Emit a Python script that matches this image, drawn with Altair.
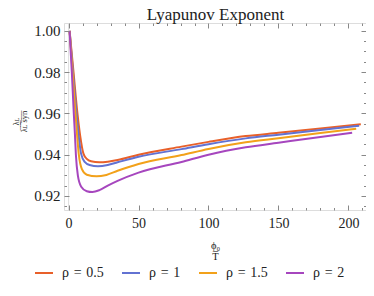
import altair as alt
import pandas as pd

# ---- data ----
series_names = ["ρ\u2004=\u20040.5", "ρ\u2004=\u20041", "ρ\u2004=\u20041.5", "ρ\u2004=\u20042"]
series_colors = ["#E8602A", "#6272D2", "#F2A11A", "#A646BE"]

x_r05 = [0.7, 3.5, 6.3, 8.3, 10.6, 13, 16, 22, 28, 35, 50, 80.7, 100, 126.6, 150, 180, 208.9]
y_r05 = [1.000, 0.980, 0.960, 0.949, 0.9405, 0.9380, 0.9368, 0.9363, 0.9366, 0.9374, 0.9400,
         0.9439, 0.9462, 0.9490, 0.9506, 0.9527, 0.9548]

x_r10 = [0.7, 3.1, 5.6, 7.2, 8.9, 11.5, 15, 21, 28, 35, 50, 80.7, 100, 126.6, 150, 180, 207.7]
y_r10 = [1.000, 0.980, 0.960, 0.949, 0.9405, 0.9365, 0.9350, 0.9344, 0.9350, 0.9363, 0.9390,
         0.9427, 0.9451, 0.9479, 0.9497, 0.9520, 0.9540]

x_r15 = [0.7, 2.8, 4.9, 6.0, 7.3, 9.5, 13, 20, 27, 35, 50, 80.7, 100, 126.6, 150, 180, 205.6]
y_r15 = [1.000, 0.980, 0.960, 0.950, 0.9400, 0.9330, 0.9303, 0.9295, 0.9302, 0.9322, 0.9355,
         0.9398, 0.9428, 0.9460, 0.9480, 0.9505, 0.9526]

x_r20 = [0.7, 2.3, 3.7, 4.5, 5.2, 6.6, 9, 13, 17, 22, 28, 35, 50, 80.7, 100, 126.6, 150, 180, 202.7]
y_r20 = [1.000, 0.980, 0.960, 0.950, 0.9400, 0.9300, 0.9245, 0.9223, 0.9219, 0.9228, 0.9250,
         0.9273, 0.9313, 0.9365, 0.9400, 0.9436, 0.9458, 0.9486, 0.9506]

x_label_values = [0, 50, 100, 150, 200]
y_label_values = [0.92, 0.94, 0.96, 0.98, 1.00]
x_major_ticks = [0, 50, 100, 150, 200]
x_minor_ticks = [10, 20, 30, 40, 60, 70, 80, 90, 110, 120, 130, 140, 160, 170, 180, 190, 210]
y_major_ticks = [0.92, 0.94, 0.96, 0.98, 1.00]
y_minor_ticks = [0.915, 0.925, 0.93, 0.935, 0.945, 0.95, 0.955, 0.965, 0.97, 0.975,
                 0.985, 0.99, 0.995]
chart_title = "Lyapunov Exponent"

rows = []
for name, xs, ys in zip(series_names, [x_r05, x_r10, x_r15, x_r20], [y_r05, y_r10, y_r15, y_r20]):
    for i, (a, b) in enumerate(zip(xs, ys)):
        rows.append({"series": name, "x": a, "y": b, "order": i})
df = pd.DataFrame(rows)

FONT = "Liberation Serif, Times New Roman, serif"
TICK = "#888888"
W, H = 302, 187
xscale = alt.Scale(domain=[-3.3, 212.6], nice=False, zero=False)
yscale = alt.Scale(domain=[0.9132, 1.0038], nice=False, zero=False)


def tick_axis(orient, values, size, offset, **extra):
    # inward-facing frame ticks (top/right axes shifted across the plot where needed)
    params = dict(orient=orient, values=values, tickSize=size, offset=offset, ticks=True,
                  labels=False, domain=False, grid=False, title=None,
                  tickColor=TICK, tickWidth=1, tickOpacity=1, zindex=2)
    params.update(extra)
    return alt.Axis(**params)


base = alt.Chart(df)

lines = base.mark_line(strokeWidth=2, interpolate="monotone").encode(
    x=alt.X("x:Q", scale=xscale,
            axis=alt.Axis(orient="bottom", values=x_label_values, ticks=False, domain=False,
                          grid=False, labelFont=FONT, labelFontSize=14, labelColor="#222",
                          labelPadding=6, labelFlush=False,
                          title=["ϕ₀", "T̅"], titleFont=FONT, titleFontSize=10.5,
                          titleFontWeight="normal", titleColor="#222", titleLineHeight=11,
                          titleX=151, titleY=30, titleBaseline="top", titleAlign="center")),
    y=alt.Y("y:Q", scale=yscale,
            axis=alt.Axis(orient="left", values=y_label_values, ticks=False, domain=False,
                          grid=False, labelFont=FONT, labelFontSize=15, labelColor="#222",
                          labelPadding=4, format=".2f", labelFlush=False,
                          title=["λʟ", "λ̅ʟ̅ ̅s̅y̅n̅"], titleFont=FONT, titleFontSize=8.5,
                          titleFontWeight="normal", titleColor="#222", titleLineHeight=8,
                          titleX=-49, titleY=98, titleAngle=-90, titleBaseline="middle",
                          titleAlign="center")),
    color=alt.Color("series:N",
                    scale=alt.Scale(domain=series_names, range=series_colors),
                    legend=alt.Legend(orient="none", legendX=-30, legendY=240,
                                      direction="horizontal", title=None,
                                      symbolType="stroke", symbolSize=324,
                                      symbolStrokeWidth=2, labelFont=FONT, labelFontSize=14,
                                      labelColor="#222", labelOffset=8, columnPadding=14)),
    order="order:Q",
    detail="series:N",
)

zero_rule = alt.Chart(pd.DataFrame({"z": [0]})).mark_rule(color="#dddddd", strokeWidth=1).encode(
    x=alt.X("z:Q", scale=xscale, axis=None),
)


def tick_layer(xaxis, yaxis):
    return base.mark_line(strokeOpacity=0).encode(
        x=alt.X("x:Q", scale=xscale, axis=xaxis),
        y=alt.Y("y:Q", scale=yscale, axis=yaxis),
        detail="series:N",
    )


# top edge (carries the chart title) / right edge
t1 = tick_layer(
    tick_axis("top", x_major_ticks, 5, -5,
              title=chart_title, titleFont=FONT, titleFontSize=17, titleFontWeight="normal",
              titleColor="#222", titleX=W / 2, titleY=-8.5, titleAlign="center",
              titleBaseline="alphabetic", titleAngle=0),
    tick_axis("right", y_major_ticks, 5, -5))
t2 = tick_layer(tick_axis("top", x_minor_ticks, 2.5, -2.5), tick_axis("right", y_minor_ticks, 2.5, -2.5))
# bottom edge / left edge
t3 = tick_layer(tick_axis("top", x_major_ticks, 5, -H), tick_axis("right", y_major_ticks, 5, -W))
t4 = tick_layer(tick_axis("top", x_minor_ticks, 2.5, -H), tick_axis("right", y_minor_ticks, 2.5, -W))

chart = alt.layer(zero_rule, t1, t2, t3, t4, lines).resolve_axis(
    x="independent", y="independent"
).properties(
    width=W, height=H,
    padding={"left": 56, "top": 15, "right": 0, "bottom": 70},
    autosize=alt.AutoSizeParams(type="none"),
).configure_view(stroke="#9a9a9a", strokeWidth=1).configure(background="white")

chart.save("out.html", embed_options={"renderer": "svg", "actions": False})
